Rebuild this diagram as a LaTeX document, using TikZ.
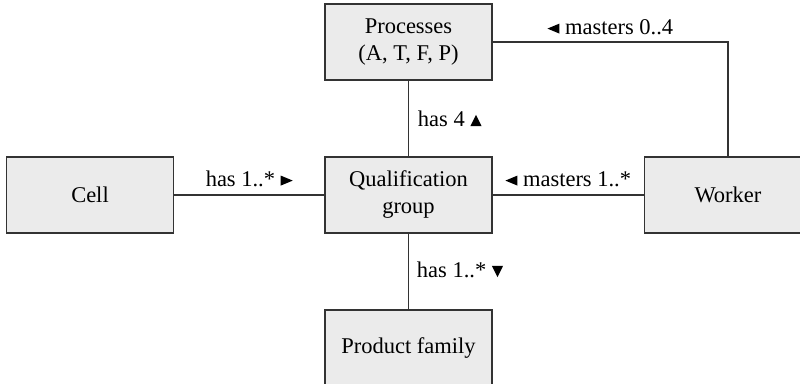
\documentclass[tikz,border=0pt]{standalone}
\usepackage{fontspec}
\setmainfont{Liberation Serif}
\definecolor{boxfill}{HTML}{EBEBEB}
\definecolor{edgegray}{HTML}{333333}
% small filled triangles used as reading-direction marks
\newcommand{\dirright}{\tikz[baseline=0pt,x=1pt,y=1pt]\fill[black] (0,0.5)--(0,5.5)--(6,3.0)--cycle;}
\newcommand{\dirleft}{\tikz[baseline=0pt,x=1pt,y=1pt]\fill[black] (6,0.5)--(6,5.5)--(0,3.0)--cycle;}
\newcommand{\dirup}{\tikz[baseline=0pt,x=1pt,y=1pt]\fill[black] (0,0.1)--(5.6,0.1)--(2.8,5.8)--cycle;}
\newcommand{\dirdown}{\tikz[baseline=0pt,x=1pt,y=1pt]\fill[black] (0,5.8)--(5.6,5.8)--(2.8,0.1)--cycle;}
\begin{document}
\begin{tikzpicture}[x=0.5pt,y=-0.5pt,
  font=\fontsize{11.25}{13.5}\selectfont,
  entity/.style={draw=edgegray, fill=boxfill, line width=0.6pt,
    minimum width=83.5pt, minimum height=38pt, inner sep=0pt, align=center},
  link/.style={draw=edgegray, line width=0.6pt},
  rolelabel/.style={inner sep=0pt, text height=7.9pt, text depth=0pt, text=black}
]
\useasboundingbox (0,0) rectangle (800,384);
\clip (0,0) rectangle (800,384);

\node[entity] (proc)   at (408.5,42)  {Processes\\(A, T, F, P)};
\node[entity] (cell)   at (90,195)    {Cell};
\node[entity] (qual)   at (408.5,195) {Qualification\\group};
\node[entity] (worker) at (728,195)   {Worker};
\node[entity] (prod)   at (408.5,348) {Product family};

\draw[link] (cell.east) -- node[rolelabel, above=4pt] {has 1..* \dirright} (qual.west);
\draw[link] (worker.west) -- node[rolelabel, above=4pt] {\dirleft{} masters 1..*} (qual.east);
\draw[link] (qual.north) -- node[rolelabel, right=4.5pt] {has 4 \dirup} (proc.south);
\draw[link] (qual.south) -- node[rolelabel, right=4pt, yshift=1pt] {has 1..* \dirdown} (prod.north);
\draw[link] (proc.east) -| node[rolelabel, pos=0.25, above=3.5pt] {\dirleft{} masters 0..4} (worker.north);
\end{tikzpicture}
\end{document}
